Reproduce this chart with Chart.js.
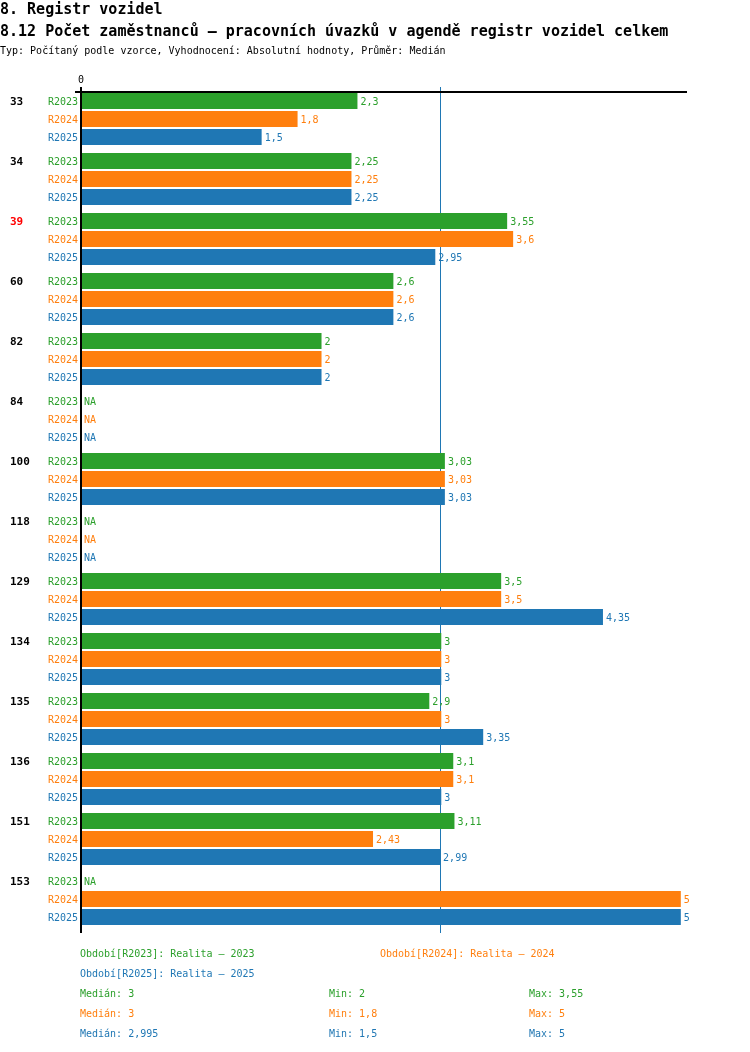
<!DOCTYPE html>
<html>
<head>
<meta charset="utf-8">
<script src="https://cdn.jsdelivr.net/npm/chart.js@4.4.1/dist/chart.umd.min.js"></script>
<style>
  body { margin: 0; background: #fff; font-family: "DejaVu Sans Mono", monospace; }
  #wrap { position: relative; width: 750px; height: 1052px; overflow: hidden; }
  #chart { position: absolute; left: 0; top: 0; }
  .t { position: absolute; white-space: pre; line-height: 1; }
  .h1 { font-size: 15px; font-weight: bold; color: #000; }
  .sub { font-size: 10px; color: #000; }
  .leg { font-size: 10px; }
</style>
</head>
<body>
<div id="wrap">
  <canvas id="chart" width="750" height="1052"></canvas>
  <div class="t h1" style="left:0px;top:2px">8. Registr vozidel</div>
  <div class="t h1" style="left:0px;top:24px">8.12 Počet zaměstnanců – pracovních úvazků v agendě registr vozidel celkem</div>
  <div class="t sub" style="left:0px;top:46px">Typ: Počítaný podle vzorce, Vyhodnocení: Absolutní hodnoty, Průměr: Medián</div>
  <div id="legend"></div>
</div>
<script>
// groups (agendy / úřady)
const groups = ['33', '34', '39', '60', '82', '84', '100', '118', '129', '134', '135', '136', '151', '153'];
const highlighted = ['39'];

// series
const seriesNames = ['R2023', 'R2024', 'R2025'];
const seriesTitles = ['Realita – 2023', 'Realita – 2024', 'Realita – 2025'];
const r2023 = [2.3, 2.25, 3.55, 2.6, 2, null, 3.03, null, 3.5, 3, 2.9, 3.1, 3.11, null];
const r2024 = [1.8, 2.25, 3.6, 2.6, 2, null, 3.03, null, 3.5, 3, 3, 3.1, 2.43, 5];
const r2025 = [1.5, 2.25, 2.95, 2.6, 2, null, 3.03, null, 4.35, 3, 3.35, 3, 2.99, 5];

// summary shown under the chart
const medians = [3, 3, 2.995];
const mins = [2, 1.8, 1.5];
const maxs = [3.55, 5, 5];

const colors = ['#2ca02c', '#ff7f0e', '#1f77b4'];
const medianLine = 3;
const fmt = v => String(v).replace('.', ',');

const overlay = {
  id: 'overlay',
  beforeDatasetsDraw(chart) {
    const { ctx, scales: { x } } = chart;
    const mx = Math.round(x.getPixelForValue(medianLine)) - 0.5;
    ctx.save();
    ctx.strokeStyle = '#1f77b4';
    ctx.lineWidth = 1;
    ctx.beginPath();
    ctx.moveTo(mx, 87);
    ctx.lineTo(mx, 933);
    ctx.stroke();
    ctx.restore();
  },
  afterDatasetsDraw(chart) {
    const { ctx, scales: { x } } = chart;
    const x0 = x.getPixelForValue(0);
    ctx.save();

    // axes
    ctx.strokeStyle = '#000';
    ctx.lineWidth = 2;
    ctx.beginPath();
    ctx.moveTo(75, 92);
    ctx.lineTo(chart.chartArea.right - 1, 92);
    ctx.moveTo(x0 - 1, 87);
    ctx.lineTo(x0 - 1, 933);
    ctx.stroke();

    ctx.font = '10px "DejaVu Sans Mono"';
    ctx.fillStyle = '#000';
    ctx.textAlign = 'center';
    ctx.textBaseline = 'middle';
    ctx.fillText('0', x0 - 1, 80);

    chart.data.datasets.forEach((ds, di) => {
      const meta = chart.getDatasetMeta(di);
      meta.data.forEach((bar, i) => {
        const y = bar.y;
        const v = ds.data[i];
        ctx.font = '10px "DejaVu Sans Mono"';
        ctx.fillStyle = colors[di];
        ctx.textBaseline = 'middle';
        ctx.textAlign = 'right';
        ctx.fillText(seriesNames[di], 78, y + 1);
        ctx.textAlign = 'left';
        if (v === null) {
          ctx.fillText('NA', x0 + 2, y + 1);
        } else {
          ctx.fillText(fmt(v), bar.x + 3, y + 1);
        }
        if (di === 0) {
          ctx.font = 'bold 11px "DejaVu Sans Mono"';
          ctx.fillStyle = highlighted.includes(groups[i]) ? '#ff0000' : '#000';
          ctx.fillText(groups[i], 10, y + 1);
        }
      });
    });
    ctx.restore();
  }
};

new Chart(document.getElementById('chart'), {
  type: 'bar',
  data: {
    labels: groups,
    datasets: [r2023, r2024, r2025].map((d, i) => ({
      label: seriesNames[i],
      data: d,
      backgroundColor: colors[i],
      borderWidth: 0,
      categoryPercentage: 0.9,
      barPercentage: 16 / 18,
    })),
  },
  options: {
    indexAxis: 'y',
    responsive: false,
    animation: false,
    devicePixelRatio: 1,
    layout: { padding: { left: 82, right: 62, top: 89, bottom: 123 } },
    scales: {
      x: { display: false, min: 0, max: 5.06 },
      y: { display: false },
    },
    plugins: {
      legend: { display: false },
      tooltip: { enabled: false },
    },
  },
  plugins: [overlay],
});

// legend + summary
const legend = document.getElementById('legend');
const put = (txt, left, top, color) => {
  const d = document.createElement('div');
  d.className = 't leg';
  d.style.left = left + 'px';
  d.style.top = top + 'px';
  d.style.color = color;
  d.textContent = txt;
  legend.appendChild(d);
};
put(`Období[${seriesNames[0]}]: ${seriesTitles[0]}`, 80, 949, colors[0]);
put(`Období[${seriesNames[1]}]: ${seriesTitles[1]}`, 380, 949, colors[1]);
put(`Období[${seriesNames[2]}]: ${seriesTitles[2]}`, 80, 969, colors[2]);
seriesNames.forEach((s, i) => {
  const top = 989 + i * 20;
  put(`Medián: ${fmt(medians[i])}`, 80, top, colors[i]);
  put(`Min: ${fmt(mins[i])}`, 329, top, colors[i]);
  put(`Max: ${fmt(maxs[i])}`, 529, top, colors[i]);
});
</script>
</body>
</html>
